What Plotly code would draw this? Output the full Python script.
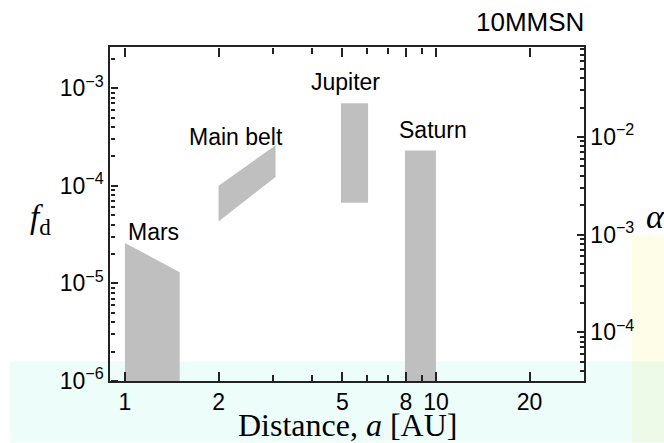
import math
import plotly.graph_objects as go

# Orbital distance (AU) and dust fraction f_d of each region
mars_a = [1.0, 1.5]
mars_top = [2.6e-5, 1.3e-5]

belt_a = [2.0, 3.05]
belt_low = [4.3e-5, 1.23e-4]
belt_high = [1.0e-4, 2.6e-4]

jupiter_a = [4.95, 6.05]
jupiter_f = [6.7e-5, 7.0e-4]

saturn_a = [7.95, 10.0]
saturn_f = [1.0e-6, 2.3e-4]

f_floor = 1.0e-6

region_names = ["Mars", "Main belt", "Jupiter", "Saturn"]
label_a = [1.235, 2.275, 5.13, 9.78]
label_f = [3.37e-5, 3.17e-4, 1.156e-3, 3.72e-4]

x_tickvals = [1, 2, 5, 8, 10, 20]
x_ticktext = ["1", "2", "5", "8", "10", "20"]
x_minor = [3, 4, 6, 7, 9]

fd_decades = [-6, -5, -4, -3]
alpha_decades = [-4, -3, -2, -1]

x_range = [-0.048, 1.476]
fd_range = [-6.0, -2.578]
alpha_shift = 1.5
alpha_range = [fd_range[0] + alpha_shift, fd_range[1] + alpha_shift]

GRAY = "rgb(191,191,191)"
INK = "#222222"
SANS = "Liberation Sans, Arial, sans-serif"
SERIF = "Liberation Serif, Times New Roman, serif"


def minor_vals(decades):
    return [k * 10.0 ** e for e in range(decades[0] - 1, decades[-1] + 1) for k in range(2, 10)]


def sup(e):
    return "10<sup>\u2212%d</sup>" % abs(e)


fig = go.Figure()


def region(xs, ys):
    fig.add_trace(go.Scatter(
        x=xs, y=ys, mode="lines", fill="toself", fillcolor=GRAY,
        line=dict(width=0, color=GRAY), hoverinfo="skip", showlegend=False,
    ))


region([mars_a[0], mars_a[0], mars_a[1], mars_a[1]],
       [f_floor, mars_top[0], mars_top[1], f_floor])
region([belt_a[0], belt_a[1], belt_a[1], belt_a[0]],
       [belt_low[0], belt_low[1], belt_high[1], belt_high[0]])
region([jupiter_a[0], jupiter_a[1], jupiter_a[1], jupiter_a[0]],
       [jupiter_f[0], jupiter_f[0], jupiter_f[1], jupiter_f[1]])
region([saturn_a[0], saturn_a[1], saturn_a[1], saturn_a[0]],
       [saturn_f[0], saturn_f[0], saturn_f[1], saturn_f[1]])

# empty traces so the alpha axis and the tick-mark axes are laid out
fig.add_trace(go.Scatter(x=[], y=[], yaxis="y2", hoverinfo="skip", showlegend=False))
fig.add_trace(go.Scatter(x=[], y=[], xaxis="x2", yaxis="y3", hoverinfo="skip", showlegend=False))
fig.add_trace(go.Scatter(x=[], y=[], xaxis="x3", yaxis="y3", hoverinfo="skip", showlegend=False))

annotations = []
for name, a, f in zip(region_names, label_a, label_f):
    annotations.append(dict(
        x=math.log10(a), y=math.log10(f), xref="x", yref="y", text=name,
        showarrow=False, font=dict(family=SANS, size=23, color="black"),
        xanchor="center", yanchor="middle",
    ))

L, R, T, B = 110, 584, 47, 381.5


def px(x):
    return (x - L) / (R - L)


def py(y):
    return (B - y) / (B - T)


annotations += [
    dict(x=px(586), y=py(22), xref="paper", yref="paper", text="10MMSN",
         showarrow=False, xanchor="right", yanchor="middle",
         font=dict(family=SANS, size=26, color="black")),
    dict(x=px(40), y=py(220), xref="paper", yref="paper",
         text="<i>f</i><sub>d</sub>", showarrow=False,
         xanchor="center", yanchor="middle",
         font=dict(family=SERIF, size=33, color="black")),
    dict(x=px(655), y=py(217), xref="paper", yref="paper",
         text="<i>\u03b1</i>", showarrow=False,
         xanchor="center", yanchor="middle",
         font=dict(family=SERIF, size=34, color="black")),
    dict(x=px(347), y=py(426), xref="paper", yref="paper",
         text="Distance, <i>a</i> [AU]", showarrow=False,
         xanchor="center", yanchor="middle",
         font=dict(family=SERIF, size=32, color="black")),
]

shapes = [
    dict(type="rect", xref="paper", yref="paper", layer="below",
         x0=px(10), x1=px(632), y0=py(443), y1=py(362),
         fillcolor="rgb(237,253,250)", line=dict(width=0)),
    dict(type="rect", xref="paper", yref="paper", layer="below",
         x0=px(632), x1=px(664), y0=py(362), y1=py(235),
         fillcolor="rgb(253,253,232)", line=dict(width=0)),
    dict(type="rect", xref="paper", yref="paper", layer="below",
         x0=px(632), x1=px(664), y0=py(443), y1=py(362),
         fillcolor="rgb(238,250,232)", line=dict(width=0)),
]

tick_font = dict(family=SANS, size=23, color="black")
common = dict(showgrid=False, zeroline=False)

# Tick-only axes sit on the frame edges facing inward, so their
# "outside" ticks point into the plotting area.
x_ticks = dict(
    type="log", range=x_range, overlaying="x", anchor="free", **common,
    showline=False, showticklabels=False,
    ticks="outside", ticklen=9, tickwidth=1.5, tickcolor=INK,
    tickmode="array", tickvals=x_tickvals,
    minor=dict(tickmode="array", tickvals=x_minor, ticks="outside",
               ticklen=6, tickwidth=1.5, tickcolor=INK, showgrid=False),
)

fig.update_layout(
    width=664, height=443,
    margin=dict(l=L, r=664 - R, t=T, b=443 - B),
    paper_bgcolor="white", plot_bgcolor="rgba(0,0,0,0)",
    showlegend=False,
    annotations=annotations, shapes=shapes,
    # frame lines and tick labels
    xaxis=dict(
        type="log", range=x_range, **common,
        showline=True, linecolor=INK, linewidth=1.5, mirror=True,
        ticks="", tickmode="array", tickvals=x_tickvals, ticktext=x_ticktext,
        tickfont=tick_font,
    ),
    yaxis=dict(
        type="log", range=fd_range, **common,
        showline=True, linecolor=INK, linewidth=1.5,
        ticks="", tickmode="array", tickvals=[10.0 ** e for e in fd_decades],
        ticktext=[sup(e) for e in fd_decades],
        tickfont=tick_font,
    ),
    # distance ticks along the bottom and top edges
    xaxis2=dict(x_ticks, side="top", position=0),
    xaxis3=dict(x_ticks, side="bottom", position=1),
    # f_d ticks along the left edge
    yaxis3=dict(
        type="log", range=fd_range, overlaying="y", anchor="free",
        side="right", position=0, **common,
        showline=False, showticklabels=False,
        ticks="outside", ticklen=7, tickwidth=1.5, tickcolor=INK,
        tickmode="array", tickvals=[10.0 ** e for e in fd_decades],
        minor=dict(tickmode="array", tickvals=minor_vals(fd_decades),
                   ticks="outside", ticklen=4, tickwidth=1.5, tickcolor=INK,
                   showgrid=False),
    ),
    # alpha axis on the right
    yaxis2=dict(
        type="log", range=alpha_range, overlaying="y", side="right",
        **common, showline=True, linecolor=INK, linewidth=1.5,
        ticks="inside", ticklen=7, tickwidth=1.5, tickcolor=INK,
        tickmode="array", tickvals=[10.0 ** e for e in alpha_decades],
        ticktext=[sup(e) for e in alpha_decades],
        tickfont=tick_font,
        minor=dict(tickmode="array", tickvals=minor_vals(alpha_decades),
                   ticks="inside", ticklen=4, tickwidth=1.5, tickcolor=INK,
                   showgrid=False),
    ),
)

fig.write_html("out.html")
